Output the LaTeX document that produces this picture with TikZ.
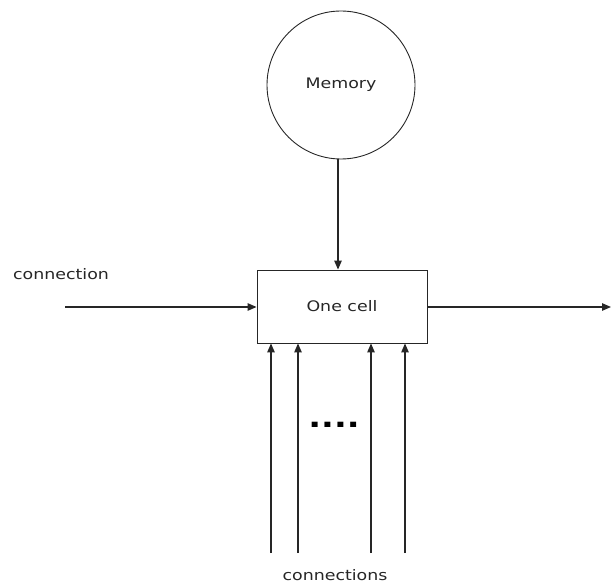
\documentclass[tikz,border=0pt]{standalone}
\usepackage{fontspec}
\setmainfont[FakeStretch=1.2]{DejaVu Sans}
\usetikzlibrary{arrows.meta}

\begin{document}
\begin{tikzpicture}[x=1pt,y=-1pt,
	conn/.style={line width=1.2pt,draw=black!85,-{Triangle[length=9pt,width=7.5pt]}},
	txt/.style={font=\fontsize{14.5}{16}\selectfont,text=black!85}]

\def\width{611}
\def\height{583}
\def\radius{74}

\path [use as bounding box] (0,0) rectangle (\width,\height);

% Nodes
\node [circle, draw=black!85, line width=0.9pt, minimum size=2*\radius, txt] (memory) at (341,85) {Memory};
\node [draw=black!85, line width=0.9pt, minimum width=170, minimum height=73, txt] (cell) at (342,306.5) {One cell};
\node [txt] (connlabel) at (61,274) {connection};
\node [txt, inner sep=0pt, anchor=base] (connslabel) at (335,580) {connections};
\node [font=\fontsize{28}{28}\bfseries] (dots) at (334,425) {....};

% Free ends
\coordinate (left) at (65,307);
\coordinate (right) at (611,307);
\coordinate (in1) at (271,553);
\coordinate (in2) at (298,553);
\coordinate (in3) at (371,553);
\coordinate (in4) at (405,553);

% Lines
\draw [conn] (memory.south -| 338,0) -- (cell.north -| 338,0);
\draw [conn] (left) -- (left -| cell.west);
\draw [conn] (cell.east |- right) -- (right);

\foreach \n in {in1,in2,in3,in4}
	\draw [conn] (\n) -- (\n |- cell.south);

\end{tikzpicture}
\end{document}
